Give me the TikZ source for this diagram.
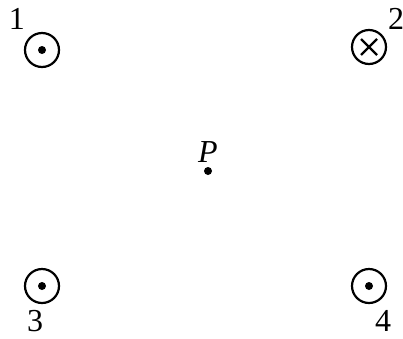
\documentclass[tikz,border=0pt]{standalone}
\usepackage{fontspec}
\setmainfont{Liberation Serif}
\begin{document}
\begin{tikzpicture}[x=1pt,y=1pt,
  wire/.style={circle, draw, line width=2.2pt, minimum size=34pt, inner sep=0pt},
  lab/.style={inner sep=0pt, font=\fontsize{32}{32}\selectfont},
  dotmark/.style={circle, fill, minimum size=8pt, inner sep=0pt}]
\useasboundingbox (0,0) rectangle (403,-338);
\node[wire] (c1) at (42,-50) {};
\node[dotmark] (d1) at (c1.center) {};
\node[wire] (c2) at (369,-47) {};
\draw[line width=2.2pt] ([shift={(-8,8)}]c2.center) -- ([shift={(8,-8)}]c2.center);
\draw[line width=2.2pt] ([shift={(-8,-8)}]c2.center) -- ([shift={(8,8)}]c2.center);
\node[wire] (c3) at (42,-286) {};
\node[dotmark] (d3) at (c3.center) {};
\node[wire] (c4) at (369,-286) {};
\node[dotmark] (d4) at (c4.center) {};
\node[dotmark] (p) at (208,-171) {};
\node[lab] (lp) at (208,-152) {\itshape P};
\node[lab] (l1) at (17,-19) {1};
\node[lab] (l2) at (396,-19) {2};
\node[lab] (l3) at (35,-321) {3};
\node[lab] (l4) at (383,-321) {4};
\end{tikzpicture}
\end{document}
